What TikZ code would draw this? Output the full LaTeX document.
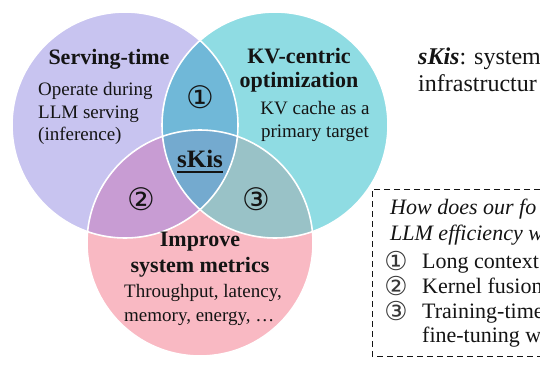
\documentclass[tikz,border=0pt]{standalone}
\usepackage{fontspec}
\setmainfont{Liberation Serif}
\newfontfamily\circfont{DejaVu Sans}
\definecolor{cpurple}{HTML}{C8C4F0}
\definecolor{ccyan}{HTML}{8FDCE3}
\definecolor{cpink}{HTML}{F9B9C3}
\definecolor{cpc}{HTML}{70B8D8}
\definecolor{cpk}{HTML}{C89CD3}
\definecolor{cck}{HTML}{99C2C7}
\definecolor{call}{HTML}{74AACF}
\definecolor{txt}{HTML}{141414}
\tikzset{
  reg/.style={inner sep=0pt, text=txt, font=\fontsize{19}{23}\selectfont},
  hd/.style={inner sep=0pt, text=txt, font=\fontsize{22}{26}\selectfont\bfseries},
  num/.style={inner sep=0pt, text=txt, font=\fontsize{31}{34}\selectfont\circfont},
  boxtxt/.style={inner sep=0pt, text=txt, font=\fontsize{22}{25}\selectfont},
  boxnum/.style={inner sep=0pt, text=txt!85, font=\fontsize{26}{28}\selectfont\circfont},
  ttl/.style={inner sep=0pt, text=txt, font=\fontsize{24}{28}\selectfont},
  rim/.style={draw=white, line width=1.6pt},
}
\begin{document}
\begin{tikzpicture}[x=1pt,y=-1pt]
\useasboundingbox (0,0) rectangle (540,372);
\clip (0,0) rectangle (540,372);
\fill[white] (0,0) rectangle (540,372);
% circle centres
\coordinate (P) at (125,125);
\coordinate (C) at (275,125);
\coordinate (K) at (200,243);
\def\rr{113pt}
% base fills
\fill[cpurple] (P) circle[radius=\rr];
\fill[ccyan] (C) circle[radius=\rr];
\fill[cpink] (K) circle[radius=\rr];
% pairwise overlaps
\begin{scope}
  \clip (P) circle[radius=\rr];
  \fill[cpc] (C) circle[radius=\rr];
  \fill[cpk] (K) circle[radius=\rr];
\end{scope}
\begin{scope}
  \clip (C) circle[radius=\rr];
  \fill[cck] (K) circle[radius=\rr];
\end{scope}
\begin{scope}
  \clip (P) circle[radius=\rr];
  \clip (C) circle[radius=\rr];
  \fill[call] (K) circle[radius=\rr];
\end{scope}
% white rims
\draw[rim] (P) circle[radius=\rr];
\draw[rim] (C) circle[radius=\rr];
\draw[rim] (K) circle[radius=\rr];

% Serving-time
\node[hd, anchor=base] (st) at (109,64) {Serving-time};
\node[reg, anchor=base west] (st1) at (38,95) {Operate during};
\node[reg, anchor=base west] (st2) at (38,118) {LLM serving};
\node[reg, anchor=base west] (st3) at (38,140) {(inference)};
% KV-centric
\node[hd, anchor=base] (kv) at (299,63) {KV-centric};
\node[hd, anchor=base] (kv0) at (299,87) {optimization};
\node[reg, anchor=base] (kv1) at (315,114) {KV cache as a};
\node[reg, anchor=base] (kv2) at (315,137) {primary target};
% Improve
\node[hd, anchor=base] (im) at (200,246) {Improve};
\node[hd, anchor=base] (im0) at (200,272) {system metrics};
\node[reg, anchor=base west] (im1) at (124,297) {Throughput, latency,};
\node[reg, anchor=base west] (im2) at (124,321) {memory, energy, \ldots};
% numbers
\node[num] (n1) at (200,97) {①};
\node[num] (n2) at (141,199) {②};
\node[num] (n3) at (256,199) {③};
% centre
\node[inner sep=0pt, text=txt, font=\fontsize{25}{28}\selectfont\bfseries, anchor=base] (sk) at (200,167) {sKis};
\draw[txt, line width=1.4pt] ([yshift=-5pt]sk.base west) -- ([yshift=-5pt]sk.base east);

% title
\node[ttl, anchor=base west] (t1) at (418,64) {\textbf{\textit{sKis}}: system};
\node[ttl, anchor=base west] (t2) at (418,91) {infrastructur};

% dashed box
\draw[txt, line width=0.9pt, dash pattern=on 6pt off 4pt] (560,189) -- (372,189) -- (372,356) -- (560,356);
\node[boxtxt, anchor=base west] (q1) at (390,214) {\textit{How does our fo}};
\node[boxtxt, anchor=base west] (q2) at (390,240) {\textit{LLM efficiency w}};
\node[boxnum] (b1) at (396,261) {①};
\node[boxtxt, anchor=base west] (l1) at (422,268) {Long context};
\node[boxnum] (b2) at (396,286) {②};
\node[boxtxt, anchor=base west] (l2) at (422,293) {Kernel fusion};
\node[boxnum] (b3) at (396,311) {③};
\node[boxtxt, anchor=base west] (l3) at (422,318) {Training-time};
\node[boxtxt, anchor=base west] (l4) at (422,342) {fine-tuning w};
\end{tikzpicture}
\end{document}
